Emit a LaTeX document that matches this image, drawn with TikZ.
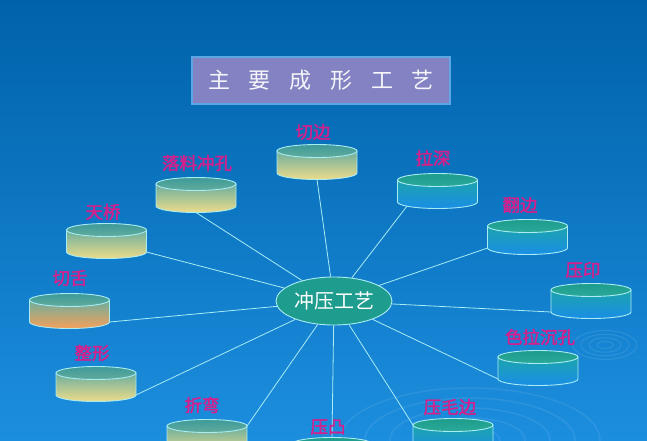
\documentclass[tikz,border=0pt]{standalone}
\usepackage{fontspec}
\usetikzlibrary{shapes.geometric}
\newfontfamily\cjk{Noto Sans CJK SC}
\newfontfamily\cjkb{Noto Sans CJK SC}[FakeBold=2]
\definecolor{bgtop}{HTML}{0062AA}
\definecolor{bgmid}{HTML}{0872C0}
\definecolor{bgbot}{HTML}{1C8EDE}
\definecolor{edge}{HTML}{A8ECF4}
\definecolor{lbl}{HTML}{D4208C}
\definecolor{titlefill}{HTML}{8383C3}
\definecolor{titleedge}{HTML}{5CA6E6}
\definecolor{tealtop}{HTML}{3E9A98}
\definecolor{tealcap}{HTML}{62AC9E}
\definecolor{paleyel}{HTML}{EEDC8A}
\definecolor{bodyteal}{HTML}{6AAE9E}
\definecolor{orng}{HTML}{F6A05A}
\definecolor{capgreen}{HTML}{1E9C8C}
\definecolor{capgreen2}{HTML}{2AA898}
\definecolor{btealb}{HTML}{1CA4AC}
\definecolor{bblue}{HTML}{1A8EE6}
\definecolor{centfill}{HTML}{1E9C8E}
\tikzset{
  x=1pt, y=-1pt,
  conn/.style={draw=edge, line width=0.8pt},
  lab/.style={text=lbl, font=\cjkb\fontsize{17.5}{17.5}\selectfont, inner sep=0pt},
  pics/cyl/.style n args={4}{code={
    \shade[top color=#1, bottom color=#2, draw=edge, line width=0.9pt]
      (-40,0) -- (-40,22) arc[start angle=180, end angle=360, x radius=40pt, y radius=6.5pt]
      -- (40,0) -- cycle;
    \shade[top color=#3, bottom color=#4, draw=edge, line width=0.9pt]
      (0,0) ellipse[x radius=40pt, y radius=6.5pt];
    \coordinate (-b) at (0,28.5);
    \coordinate (-bl) at (-40,22);
    \coordinate (-br) at (40,22);
    \coordinate (-bsw) at (-30.6,26.2);
    \coordinate (-tl) at (-40,0);
    \coordinate (-tr) at (40,0);
    \coordinate (-tt) at (0,-6.5);
  }},
}
\begin{document}
\begin{tikzpicture}
\useasboundingbox (0,0) rectangle (647,440);
\shade[top color=bgtop, middle color=bgmid, bottom color=bgbot] (0,0) rectangle (647,440);
% faint ripples
\foreach \r in {8,16,24,32}{
  \draw[white, opacity=0.10, line width=1pt] (605,345) ellipse[x radius=\r pt, y radius=0.45*\r pt];
}
\foreach \r in {30,55,80,105,130}{
  \draw[white, opacity=0.08, line width=1.5pt] (470,440) ellipse[x radius=\r pt, y radius=0.4*\r pt];
}
% title
\node[draw=titleedge, line width=1.5pt, fill=titlefill, minimum width=258pt, minimum height=47pt,
      text=white!92!titlefill, font=\cjk\fontsize{22}{22}\selectfont] (title) at (321,80.5)
      {主\hspace{0.85em}要\hspace{0.85em}成\hspace{0.85em}形\hspace{0.85em}工\hspace{0.85em}艺};
% cylinders
\pic (qb) at (317,151) {cyl={bodyteal}{paleyel}{tealtop}{tealcap}};
\pic (ll) at (196,184) {cyl={bodyteal}{paleyel}{tealtop}{tealcap}};
\pic (ls) at (437.5,180) {cyl={btealb}{bblue}{capgreen}{capgreen2}};
\pic (fb) at (527.5,226) {cyl={btealb}{bblue}{capgreen}{capgreen2}};
\pic (yy) at (591,290) {cyl={btealb}{bblue}{capgreen}{capgreen2}};
\pic (sl) at (538,357) {cyl={btealb}{bblue}{capgreen}{capgreen2}};
\pic (ym) at (453,425) {cyl={btealb}{bblue}{capgreen}{capgreen2}};
\pic (tq) at (106.5,230) {cyl={bodyteal}{paleyel}{tealtop}{tealcap}};
\pic (qs) at (69.5,300) {cyl={bodyteal}{orng}{tealtop}{tealcap}};
\pic (zx) at (96,373) {cyl={bodyteal}{paleyel}{tealtop}{tealcap}};
\pic (zw) at (207,426) {cyl={bodyteal}{paleyel}{tealtop}{tealcap}};
\pic (yt) at (332,444) {cyl={btealb}{bblue}{capgreen}{capgreen2}};
% center
\node[ellipse, draw=edge, line width=0.9pt, fill=centfill, minimum width=116pt, minimum height=48pt,
      text=white, font=\cjk\fontsize{20}{20}\selectfont, inner sep=0pt] (c) at (334,301) {冲压工艺};
% connectors
\draw[conn] (c) -- (qb-b);
\draw[conn] (c) -- (ll-b);
\draw[conn] (c) -- (ls-bsw);
\draw[conn] (c) -- (fb-bl);
\draw[conn] (c) -- (yy-bl);
\draw[conn] (c) -- (sl-bl);
\draw[conn] (c) -- (ym-tl);
\draw[conn] (c) -- (tq-br);
\draw[conn] (c) -- (qs-br);
\draw[conn] (c) -- (zx-br);
\draw[conn] (c) -- (zw-tr);
\draw[conn] (c) -- (yt-tt);
% labels
\node[lab] (lqb) at (313,132) {切边};
\node[lab] (lll) at (197,163) {落料冲孔};
\node[lab] (lls) at (433,158) {拉深};
\node[lab] (lfb) at (520,205) {翻边};
\node[lab] (lyy) at (583,270) {压印};
\node[lab] (lsl) at (540,337) {色拉沉孔};
\node[lab] (lym) at (450,407) {压毛边};
\node[lab] (ltq) at (103,212) {天桥};
\node[lab] (lqs) at (70,278) {切舌};
\node[lab] (lzx) at (92,353) {整形};
\node[lab] (lzw) at (202,405) {折弯};
\node[lab] (lyt) at (328,427) {压凸};
\end{tikzpicture}
\end{document}
